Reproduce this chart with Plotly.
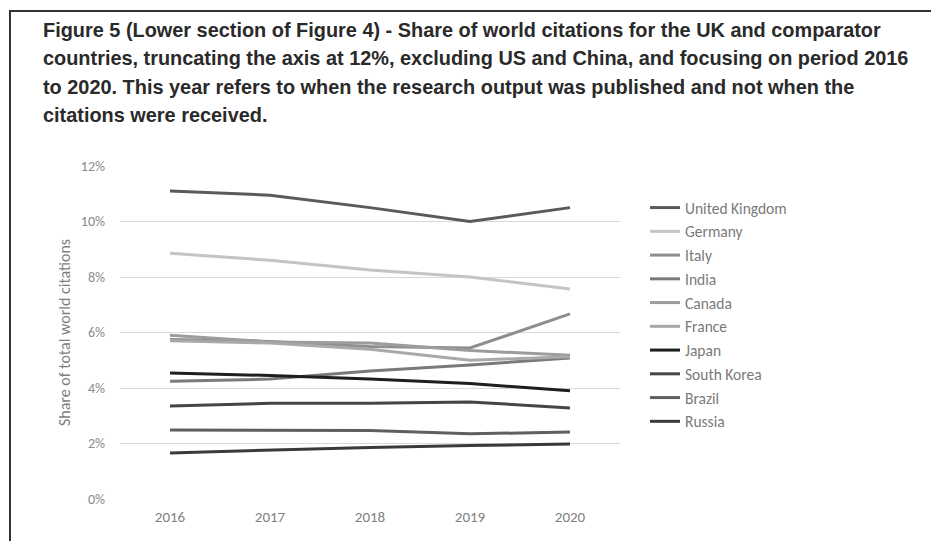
import plotly.graph_objects as go

years = [2016, 2017, 2018, 2019, 2020]

countries = ["United Kingdom", "Germany", "Italy", "India", "Canada",
             "France", "Japan", "South Korea", "Brazil", "Russia"]

uk = [11.10, 10.95, 10.50, 10.00, 10.50]
germany = [8.86, 8.60, 8.25, 8.00, 7.57]
italy = [5.75, 5.68, 5.50, 5.44, 6.67]
india = [4.24, 4.32, 4.61, 4.83, 5.08]
canada = [5.90, 5.66, 5.62, 5.35, 5.18]
france = [5.70, 5.62, 5.40, 5.00, 5.13]
japan = [4.54, 4.45, 4.32, 4.16, 3.90]
south_korea = [3.35, 3.45, 3.45, 3.50, 3.28]
brazil = [2.49, 2.49, 2.47, 2.35, 2.41]
russia = [1.66, 1.76, 1.86, 1.93, 1.98]

series = [uk, germany, italy, india, canada, france, japan, south_korea, brazil, russia]
colors = ["#5a5a5a", "#c4c4c4", "#8e8e8e", "#7a7a7a", "#9c9c9c",
          "#a9a9a9", "#1e1e1e", "#454545", "#5f5f5f", "#3a3a3a"]

y_ticks = [0, 2, 4, 6, 8, 10, 12]
y_tick_labels = ["0%", "2%", "4%", "6%", "8%", "10%", "12%"]

title_lines = [
    "Figure 5 (Lower section of Figure 4) - Share of world citations for the UK and comparator",
    "countries, truncating the axis at 12%, excluding US and China, and focusing on period 2016",
    "to 2020. This year refers to when the research output was published and not when the",
    "citations were received.",
]

fig = go.Figure()
for name, vals, col in zip(countries, series, colors):
    fig.add_trace(go.Scatter(
        x=years, y=vals, name=name, mode="lines",
        line=dict(color=col, width=3), legendgroup=name,
    ))

W, H = 931, 541
L, R, T, B = 120, 311, 166, 42
pw, ph = W - L - R, H - T - B

def px_x(x):
    return (x - L) / pw

def px_y(y):
    return (H - B - y) / ph

annotations = []
for i, line in enumerate(title_lines):
    annotations.append(dict(
        text="<b>" + line + "</b>", xref="paper", yref="paper",
        x=px_x(41), y=px_y(30 + i * 28.5), xanchor="left", yanchor="middle",
        showarrow=False,
        font=dict(family="Liberation Sans, Arial, sans-serif", size=19.9, color="#2a2a2a"),
    ))

fig.update_layout(
    width=W, height=H,
    margin=dict(l=L, r=R, t=T, b=B),
    paper_bgcolor="white", plot_bgcolor="white",
    font=dict(family="Carlito, Lato, 'Open Sans', sans-serif", color="#7f7f7f"),
    annotations=annotations,
    showlegend=True,
    legend=dict(
        x=px_x(645), y=px_y(191), xanchor="left", yanchor="top",
        font=dict(size=15.5, color="#7a7a7a"),
        tracegroupgap=0.6, itemwidth=30,
        bgcolor="rgba(0,0,0,0)",
    ),
    shapes=[dict(
        type="path", xref="paper", yref="paper",
        path=f"M {px_x(10)},{px_y(560)} L {px_x(10)},{px_y(11)} L {px_x(960)},{px_y(11)}",
        line=dict(color="#333333", width=2),
    )],
)

fig.update_xaxes(
    range=[2015.5, 2020.5], tickvals=years, ticktext=[str(y) for y in years],
    showgrid=False, zeroline=False, showline=False, ticks="",
    tickfont=dict(size=15, color="#7f7f7f"), ticklabelstandoff=7,
)
fig.update_yaxes(
    range=[0, 12], tickvals=y_ticks, ticktext=y_tick_labels,
    showgrid=True, gridcolor="#d9d9d9", gridwidth=1,
    zeroline=False, showline=False, ticks="",
    tickfont=dict(size=14, color="#8a8a8a"), ticklabelstandoff=14,
    title=dict(text="Share of total world citations", font=dict(size=16, color="#7f7f7f"), standoff=6),
)

fig.write_html(
    "out.html",
    config={"displayModeBar": False},
    post_script="document.body.style.margin='0';document.body.style.overflow='hidden';",
)
